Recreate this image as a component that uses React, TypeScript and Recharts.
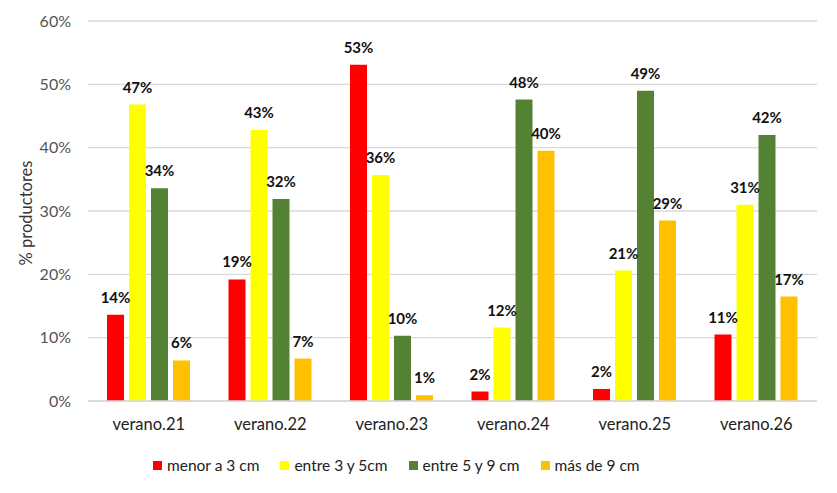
import { BarChart, Bar, XAxis, YAxis, CartesianGrid, LabelList } from "recharts";

// periods on the x axis
const periods = ["verano.21", "verano.22", "verano.23", "verano.24", "verano.25", "verano.26"];

// % of producers per size class
const menor3 = [13.6, 19.2, 53.1, 1.5, 1.9, 10.5];
const entre3y5 = [46.8, 42.8, 35.7, 11.6, 20.6, 31.0];
const entre5y9 = [33.6, 31.9, 10.3, 47.6, 49.0, 42.0];
const mas9 = [6.4, 6.7, 0.9, 39.5, 28.5, 16.5];

const yTicks = [0, 10, 20, 30, 40, 50, 60];

const series = [
  { key: "menor", name: "menor a 3 cm", color: "#FF0000" },
  { key: "e35", name: "entre 3 y 5cm", color: "#FFFF00" },
  { key: "e59", name: "entre 5 y 9 cm", color: "#548235" },
  { key: "mas", name: "más de 9 cm", color: "#FFC000" },
];

const data = periods.map((p, i) => ({
  period: p,
  menor: menor3[i],
  e35: entre3y5[i],
  e59: entre5y9[i],
  mas: mas9[i],
}));

const FONT = "Lato, 'Open Sans', sans-serif";

const YLabel = ({ viewBox }: any) => {
  const cy = viewBox.y + viewBox.height / 2 + 2;
  return (
    <text x={26} y={cy} transform={`rotate(-90 26 ${cy})`} textAnchor="middle" dominantBaseline="central"
      fill="#333" fontSize={16.5} fontFamily={FONT}>
      % productores
    </text>
  );
};

export default function App() {
  return (
    <div style={{ position: "absolute", left: 0, top: 0, width: 837, height: 493, background: "#fff" }}>
      <BarChart width={837} height={493} data={data} margin={{ top: 21, right: 20, bottom: 62, left: 0 }}
        barSize={17} barGap={5}>
        <CartesianGrid vertical={false} stroke="#D9D9D9" strokeWidth={1.3} />
        <XAxis dataKey="period" tickLine={false} axisLine={{ stroke: "#D9D9D9", strokeWidth: 1.3 }}
          tick={{ fill: "#222", fontSize: 16.5, fontFamily: FONT }} tickSize={0} tickMargin={17} height={30} />
        <YAxis domain={[0, 60]} ticks={yTicks} tickFormatter={(v) => `${v}%`} width={88}
          axisLine={false} tickLine={false} tickSize={0} tickMargin={17}
          tick={{ fill: "#555", fontSize: 16, fontFamily: FONT }}
          label={{ content: YLabel }} />
        {series.map((s) => (
          <Bar key={s.key} dataKey={s.key} name={s.name} fill={s.color} isAnimationActive={false}>
            <LabelList dataKey={s.key} position="top" offset={12}
              formatter={(v: any) => `${Math.round(v)}%`}
              style={{ fill: "#111", fontSize: 15, fontWeight: 700, fontFamily: FONT }} />
          </Bar>
        ))}
      </BarChart>
      {/* legend drawn outside the chart so it doesn't shrink the plot */}
      <div style={{ position: "absolute", left: 153, top: 456, display: "flex", gap: 21,
        fontFamily: FONT, fontSize: 15.5, color: "#222" }}>
        {series.map((s) => (
          <div key={s.key} style={{ display: "flex", alignItems: "center" }}>
            <span style={{ width: 9, height: 9, background: s.color, display: "inline-block", marginRight: 5 }} />
            <span>{s.name}</span>
          </div>
        ))}
      </div>
    </div>
  );
}
